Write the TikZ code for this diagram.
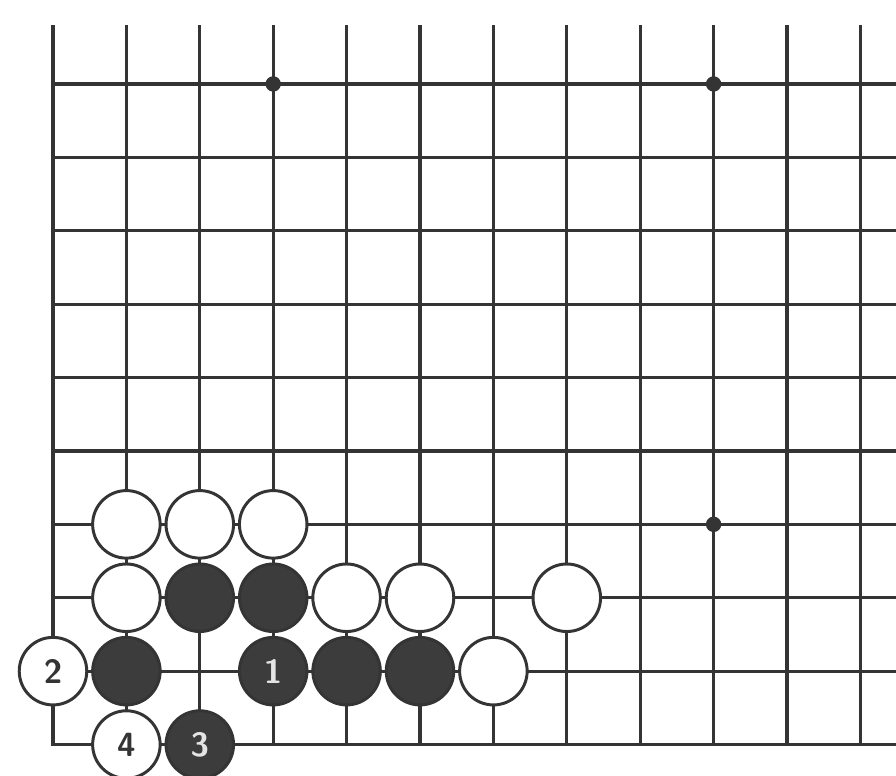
\documentclass[tikz,border=0pt]{standalone}
\usepackage{tikz}
\usetikzlibrary{calc}
\definecolor{gridcol}{RGB}{52,52,52}
\definecolor{blackstone}{RGB}{60,60,60}
\definecolor{numlight}{RGB}{228,228,228}
\tikzset{
  gline/.style={gridcol,line width=1.2pt,line cap=rect},
  hoshi/.style={circle,fill=gridcol,inner sep=0pt,minimum size=2.1mm},
  wstone/.style={circle,draw=gridcol,fill=white,line width=1.15pt,inner sep=0pt,
    minimum size=9.2mm,text=gridcol,font=\sffamily\bfseries\fontsize{13}{13}\selectfont},
  bstone/.style={wstone,fill=blackstone,text=numlight},
}
\begin{document}
\begin{tikzpicture}
  \useasboundingbox[fill=white] (-0.722,-0.426) rectangle (11.485,10.144);
  % board lines
  \foreach \x in {0,...,11} {\draw[gline] (\x,0) -- (\x,9.78);}
  \foreach \y in {0,...,9} {\draw[gline] (0,\y) -- (11.485,\y);}
  \foreach \n/\x/\y in {h1/3/9,h2/9/9,h3/9/3} {\node[hoshi] (\n) at (\x,\y) {};}
  % white stones
  \foreach \n/\x/\y/\lab in {w1/1/3/{},w2/2/3/{},w3/3/3/{},w4/1/2/{},w5/4/2/{},
                             w6/5/2/{},w7/7/2/{},w8/0/1/2,w9/6/1/{},w10/1/0/4}
    {\node[wstone] (\n) at (\x,\y) {\lab};}
  % black stones
  \foreach \n/\x/\y/\lab in {b1/2/2/{},b2/3/2/{},b3/1/1/{},b4/3/1/1,b5/4/1/{},
                             b6/5/1/{},b7/2/0/3}
    {\node[bstone] (\n) at (\x,\y) {\lab};}
\end{tikzpicture}
\end{document}
